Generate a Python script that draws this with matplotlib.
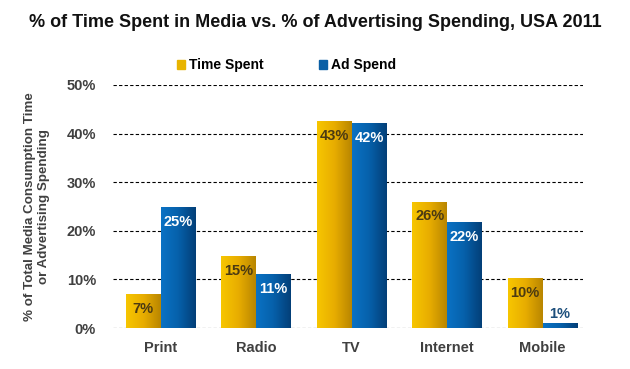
import matplotlib.pyplot as plt
import numpy as np
from matplotlib.colors import LinearSegmentedColormap

categories = ['Print', 'Radio', 'TV', 'Internet', 'Mobile']
time_spent = [6.8, 14.6, 42.4, 25.9, 10.1]
ad_spend = [24.7, 10.9, 42.1, 21.7, 0.9]
time_labels = ['7%', '15%', '43%', '26%', '10%']
ad_labels = ['25%', '11%', '42%', '22%', '1%']
yticks = [0, 10, 20, 30, 40, 50]

plt.rcParams['font.family'] = ['Liberation Sans', 'DejaVu Sans']
plt.rcParams['font.weight'] = 'bold'

gold = LinearSegmentedColormap.from_list('gold', ['#f7c600', '#e8ad00', '#b98600'])
blue = LinearSegmentedColormap.from_list('blue', ['#0a72c4', '#0660aa', '#033f78'])
grad = np.linspace(0, 1, 64).reshape(1, -1)

fig = plt.figure(figsize=(6.3, 3.69), dpi=100)
ax = fig.add_axes([0.179, 0.111, 0.746, 0.659])

x = np.arange(len(categories))
w = 0.365


def gradient_bars(xs, heights, cmap, color):
    bars = ax.bar(xs, heights, w, color=color, zorder=3)
    for b in bars:
        x0, y0 = b.get_x(), b.get_y()
        ax.imshow(grad, cmap=cmap, aspect='auto', zorder=4,
                  extent=(x0, x0 + b.get_width(), y0, y0 + b.get_height()))
    return bars


gradient_bars(x - w / 2, time_spent, gold, '#e8ad00')
gradient_bars(x + w / 2, ad_spend, blue, '#0660aa')

for i in range(len(categories)):
    ax.text(x[i] - w / 2, time_spent[i] - 1.5, time_labels[i], ha='center', va='top',
            fontsize=10.5, color='#4b3a12', zorder=5)
    if ad_spend[i] > 5:
        ax.text(x[i] + w / 2, ad_spend[i] - 1.5, ad_labels[i], ha='center', va='top',
                fontsize=10.5, color='white', zorder=5)
    else:
        ax.text(x[i] + w / 2, ad_spend[i] + 0.6, ad_labels[i], ha='center', va='bottom',
                fontsize=10.5, color='#1d4f7c', zorder=5)

ax.set_xlim(-0.5, 4.42)
ax.set_ylim(0, 50)
ax.set_yticks(yticks)
ax.set_yticklabels([f'{t}%' for t in yticks])
ax.set_xticks(x)
ax.set_xticklabels(categories)
ax.tick_params(length=0, labelsize=10.5, labelcolor='#404040')
ax.tick_params(axis='y', pad=12)
ax.tick_params(axis='x', pad=9)
for s in ax.spines.values():
    s.set_visible(False)
ax.grid(axis='y', color='black', linestyle=(0, (3, 2)), linewidth=0.8, zorder=1)
ax.set_ylabel('% of Total Media Consumption Time\nor Advertising Spending',
              fontsize=9.6, fontweight='bold', color='#404040', labelpad=12)

fig.text(0.5, 0.94, '% of Time Spent in Media vs. % of Advertising Spending, USA 2011',
         ha='center', va='center', fontsize=13, fontweight='bold', color='#111111')

fig.legend(handles=[plt.Rectangle((0, 0), 1, 1, color='#e8b400'),
                    plt.Rectangle((0, 0), 1, 1, color='#0a5fa5')],
           labels=['Time Spent', 'Ad Spend'], loc='center', bbox_to_anchor=(0.455, 0.823),
           ncol=2, frameon=False, prop={'size': 10, 'weight': 'bold'},
           handlelength=0.55, handleheight=0.55, handletextpad=0.3, columnspacing=4.0)

fig.savefig('out.png', dpi=100)
